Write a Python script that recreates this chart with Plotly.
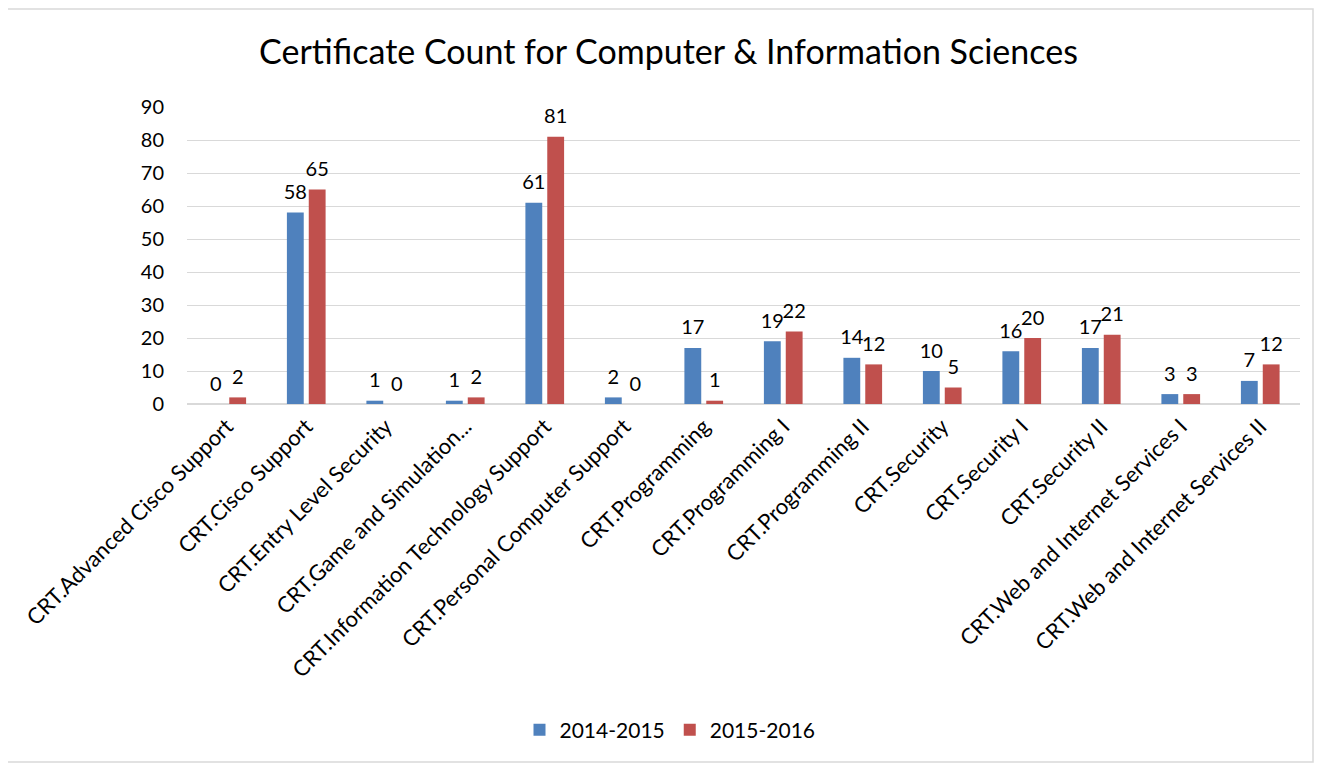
import plotly.graph_objects as go

categories = [
    "CRT.Advanced Cisco Support", "CRT.Cisco Support", "CRT.Entry Level Security",
    "CRT.Game and Simulation...", "CRT.Information Technology Support",
    "CRT.Personal Computer Support", "CRT.Programming", "CRT.Programming I",
    "CRT.Programming II", "CRT.Security", "CRT.Security I", "CRT.Security II",
    "CRT.Web and Internet Services I", "CRT.Web and Internet Services II",
]
series_2014_2015 = [0, 58, 1, 1, 61, 2, 17, 19, 14, 10, 16, 17, 3, 7]
series_2015_2016 = [2, 65, 0, 2, 81, 0, 1, 22, 12, 5, 20, 21, 3, 12]
series_names = ["2014-2015", "2015-2016"]
series_colors = ["#4F81BD", "#C0504D"]
y_ticks = [0, 10, 20, 30, 40, 50, 60, 70, 80, 90]

FONT = "Lato, Carlito, Calibri, sans-serif"

# page body adds an 8px offset; compensate so the figure lands like the reference
W, H = 1321, 763
L, T, R, B = 179, 99, 29, 367
PW, PH = W - L - R, H - T - B
GAP = 0.45

fig = go.Figure()
for i, (name, vals, col) in enumerate(zip(series_names, [series_2014_2015, series_2015_2016], series_colors)):
    fig.add_trace(go.Bar(
        name=name, x=categories, y=vals, offsetgroup=str(i),
        marker=dict(color=col, line=dict(width=0)),
    ))
for i, vals in enumerate([series_2014_2015, series_2015_2016]):
    fig.add_trace(go.Scatter(
        x=categories, y=vals, mode="markers+text", offsetgroup=str(i),
        marker=dict(size=12, opacity=0),
        text=[str(v) for v in vals], textposition="top center",
        textfont=dict(size=20, color="#000000", family=FONT),
        showlegend=False, hoverinfo="skip", cliponaxis=False,
    ))

fig.update_layout(
    width=W, height=H,
    paper_bgcolor="white", plot_bgcolor="white",
    font=dict(family=FONT, size=20, color="#000000"),
    title=dict(text="Certificate Count for Computer & Information Sciences",
               x=0.5, xanchor="center", y=1 - 44 / H, yanchor="middle",
               yref="container", font=dict(size=34, family=FONT, color="#000000")),
    margin=dict(l=L, r=R, t=T, b=B),
    barmode="group", bargap=GAP, bargroupgap=0.23,
    scattermode="group", scattergap=GAP,
    legend=dict(orientation="h", x=(662 - L) / PW, xanchor="center", y=-(722 - 396) / PH,
                yanchor="middle", font=dict(size=21, family=FONT), itemwidth=30,
                traceorder="normal"),
    showlegend=True,
)
fig.update_xaxes(
    tickangle=-45, showline=True, linecolor="#D9D9D9", linewidth=1,
    showgrid=False, ticks="", tickfont=dict(size=22, family=FONT), automargin=False,
)
fig.update_yaxes(
    range=[0, 90], tickvals=y_ticks, showgrid=True, gridcolor="#D9D9D9", gridwidth=1,
    zeroline=True, zerolinecolor="#D9D9D9", showline=False, ticks="",
    ticklabelstandoff=22, tickfont=dict(size=20, family=FONT), automargin=False,
)

# chart-area outline
fig.add_shape(type="rect", xref="paper", yref="paper",
              x0=(-1 - L) / PW, x1=(1305 - L) / PW,
              y0=(T + PH - 754) / PH, y1=(T + PH - 1) / PH,
              line=dict(color="#D9D9D9", width=1.5), fillcolor="rgba(0,0,0,0)", layer="below")

fig.write_html("out.html")
